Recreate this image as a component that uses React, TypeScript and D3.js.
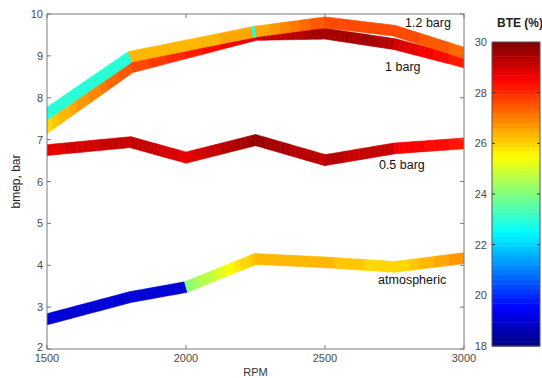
import React from "react";
import * as d3 from "d3";

const W = 542, H = 378;
const M = { left: 47, right: 464, top: 14, bottom: 349 };

const xTicks = [1500, 2000, 2500, 3000];
const yTicks = [2, 3, 4, 5, 6, 7, 8, 9, 10];
const cTicks = [18, 20, 22, 24, 26, 28, 30];

// series (drawn in this order)
const atmRpm = [1500, 1800, 2000, 2250, 2500, 2750, 3000];
const atmBmep = [2.71, 3.24, 3.48, 4.15, 4.07, 3.96, 4.17];
const atmBteStart = [19.0, 19.0, 24.0, 26.4, 26.3, 25.9];
const atmBteEnd = [19.0, 19.0, 26.3, 26.4, 25.9, 26.8];

const b05Rpm = [1500, 1800, 2000, 2250, 2500, 2750, 3000];
const b05Bmep = [6.75, 6.94, 6.57, 6.99, 6.51, 6.79, 6.91];
const b05BteStart = [28.8, 29.3, 28.8, 29.7, 29.3, 28.7];
const b05BteEnd = [29.2, 28.8, 29.7, 29.2, 29.1, 28.2];

const b10Rpm = [1500, 1800, 2250, 2500, 2750, 3000];
const b10Bmep = [7.3, 8.72, 9.5, 9.53, 9.28, 8.85];
const b10BteStart = [26.0, 27.6, 29.0, 29.6, 29.0];
const b10BteEnd = [27.6, 28.9, 29.6, 29.4, 28.1];

const b12Rpm = [1500, 1800, 2250, 2500, 2750, 3000];
const b12Bmep = [7.62, 8.98, 9.58, 9.8, 9.6, 9.07];
const b12BteStart = [22.9, 26.3, 26.4, 27.6, 27.7];
const b12BteEnd = [22.9, 26.5, 27.6, 27.7, 27.3];
// a short cyan sliver just before 2250 rpm on the 1.2 barg line
const b12SliverRpm = [2250];
const b12SliverBte = [22.9];

const seriesList = [
  { rpm: atmRpm, bmep: atmBmep, s: atmBteStart, e: atmBteEnd, sliverRpm: [] as number[], sliverBte: [] as number[] },
  { rpm: b05Rpm, bmep: b05Bmep, s: b05BteStart, e: b05BteEnd, sliverRpm: [], sliverBte: [] },
  { rpm: b10Rpm, bmep: b10Bmep, s: b10BteStart, e: b10BteEnd, sliverRpm: [], sliverBte: [] },
  { rpm: b12Rpm, bmep: b12Bmep, s: b12BteStart, e: b12BteEnd, sliverRpm: b12SliverRpm, sliverBte: b12SliverBte },
];

const labels = [
  { text: "1.2 barg", rpm: 2788, bmep: 9.68 },
  { text: "1 barg", rpm: 2716, bmep: 8.63 },
  { text: "0.5 barg", rpm: 2694, bmep: 6.29 },
  { text: "atmospheric", rpm: 2691, bmep: 3.56 },
];

function jet(v: number): string {
  const t0 = Math.max(0, Math.min(1, (v - 18) / 12));
  const t = (Math.min(63, Math.floor(t0 * 64)) + 0.5) / 64;
  const c = (x: number) => Math.max(0, Math.min(1, x));
  const r = c(1.5 - Math.abs(4 * t - 3));
  const g = c(1.5 - Math.abs(4 * t - 2));
  const b = c(1.5 - Math.abs(4 * t - 1));
  return d3.rgb(r * 255, g * 255, b * 255).formatHex();
}

export default function App() {
  const x = d3.scaleLinear().domain([1500, 3000]).range([M.left, M.right]);
  const y = d3.scaleLinear().domain([2, 10]).range([M.bottom, M.top]);
  const cb = { x0: 492, x1: 540, y0: 42, y1: 346 };
  const cy = d3.scaleLinear().domain([18, 30]).range([cb.y1, cb.y0]);
  const hw = 5.4;
  const N = 14;
  const sliverPx = 3.2;

  const ribbons: JSX.Element[] = [];
  seriesList.forEach((sr, si) => {
    const P = sr.rpm.map((r, i) => [x(r), y(sr.bmep[i])]);
    const n = P.length;
    const normals: number[][] = [];
    for (let i = 0; i < n - 1; i++) {
      const dx = P[i + 1][0] - P[i][0], dy = P[i + 1][1] - P[i][1];
      const L = Math.hypot(dx, dy);
      normals.push([-dy / L, dx / L]);
    }
    const off: number[][] = P.map((_, i) => {
      if (i === 0 || i === n - 1) {
        const nn = normals[i === 0 ? 0 : n - 2];
        return [0, hw / nn[1]];
      }
      const a = normals[i - 1], b = normals[i];
      let mx = a[0] + b[0], my = a[1] + b[1];
      const ml = Math.hypot(mx, my);
      mx /= ml; my /= ml;
      const k = hw / (mx * a[0] + my * a[1]);
      return [mx * k, my * k];
    });
    const quad = (i: number, f0: number, f1: number) => {
      const pt = (f: number, sgn: number) => {
        const cx = P[i][0] + (P[i + 1][0] - P[i][0]) * f;
        const cyy = P[i][1] + (P[i + 1][1] - P[i][1]) * f;
        const ox = off[i][0] + (off[i + 1][0] - off[i][0]) * f;
        const oy = off[i][1] + (off[i + 1][1] - off[i][1]) * f;
        return [cx + sgn * ox, cyy + sgn * oy];
      };
      return [pt(f0, 1), pt(f1, 1), pt(f1, -1), pt(f0, -1)].map((p) => p.join(",")).join(" ");
    };
    for (let i = 0; i < n - 1; i++) {
      for (let k = 0; k < N; k++) {
        const v = sr.s[i] + (sr.e[i] - sr.s[i]) * ((k + 0.5) / N);
        const col = jet(v);
        ribbons.push(
          <polygon key={`r${si}-${i}-${k}`} points={quad(i, k / N, (k + 1) / N)} fill={col} stroke={col} strokeWidth={0.6} />
        );
      }
    }
    sr.sliverRpm.forEach((r, j) => {
      const i = sr.rpm.indexOf(r) - 1;
      if (i < 0) return;
      const segLen = P[i + 1][0] - P[i][0];
      const f0 = 1 - sliverPx / segLen;
      const col = jet(sr.sliverBte[j]);
      ribbons.push(
        <polygon key={`s${si}-${j}`} points={quad(i, f0, 1)} fill={col} stroke={col} strokeWidth={0.4} />
      );
    });
  });

  const bars = d3.range(64).map((i) => {
    const v0 = 18 + (12 * i) / 64, v1 = 18 + (12 * (i + 1)) / 64;
    return (
      <rect key={`cb${i}`} x={cb.x0} y={cy(v1)} width={cb.x1 - cb.x0} height={cy(v0) - cy(v1) + 0.5} fill={jet((v0 + v1) / 2)} />
    );
  });

  const axisCol = "#7a7a7a";
  const tickText = "#4a4a4a";
  const font = "'Liberation Sans', Arial, sans-serif";

  return (
    <svg width={W} height={H} style={{ position: "absolute", left: 0, top: 0, background: "#fff" }} fontFamily={font}>
      <rect x={0} y={0} width={W} height={H} fill="#fff" />
      <defs>
        <clipPath id="plotclip">
          <rect x={M.left} y={M.top} width={M.right - M.left} height={M.bottom - M.top} />
        </clipPath>
      </defs>
      <g clipPath="url(#plotclip)">{ribbons}</g>
      <rect x={M.left} y={M.top} width={M.right - M.left} height={M.bottom - M.top} fill="none" stroke={axisCol} strokeWidth={1} />
      {xTicks.map((t) => (
        <g key={`xt${t}`}>
          <line x1={x(t)} x2={x(t)} y1={M.bottom} y2={M.bottom - 4} stroke={axisCol} />
          <line x1={x(t)} x2={x(t)} y1={M.top} y2={M.top + 4} stroke={axisCol} />
          <text x={x(t)} y={M.bottom + 13} textAnchor="middle" fontSize={11} fill={tickText}>{t}</text>
        </g>
      ))}
      {yTicks.map((t) => (
        <g key={`yt${t}`}>
          <line x1={M.left} x2={M.left + 4} y1={y(t)} y2={y(t)} stroke={axisCol} />
          <line x1={M.right} x2={M.right - 4} y1={y(t)} y2={y(t)} stroke={axisCol} />
          <text x={M.left - 4} y={y(t) + (t === 2 ? 2 : 4)} textAnchor="end" fontSize={11} fill={tickText}>{t}</text>
        </g>
      ))}
      <text x={(M.left + M.right) / 2} y={376} textAnchor="middle" fontSize={11} fill="#333">RPM</text>
      <text transform={`translate(20,${(M.top + M.bottom) / 2}) rotate(-90)`} textAnchor="middle" fontSize={12} fill="#222">bmep, bar</text>
      {labels.map((l) => (
        <text key={l.text} x={x(l.rpm)} y={y(l.bmep)} fontSize={12.5} fill="#111">{l.text}</text>
      ))}
      {bars}
      <rect x={cb.x0} y={cb.y0} width={cb.x1 - cb.x0} height={cb.y1 - cb.y0} fill="none" stroke="#555" strokeWidth={1} />
      {cTicks.map((t) => (
        <g key={`ct${t}`}>
          {t !== 18 && t !== 30 && (
            <>
              <line x1={cb.x0} x2={cb.x0 + 3} y1={cy(t)} y2={cy(t)} stroke="#333" />
              <line x1={cb.x1} x2={cb.x1 - 3} y1={cy(t)} y2={cy(t)} stroke="#333" />
            </>
          )}
          <text x={487} y={cy(t) + 4} textAnchor="end" fontSize={11} fill={tickText}>{t}</text>
        </g>
      ))}
      <text x={497} y={27} fontSize={12} fontWeight="bold" fill="#222">BTE (%)</text>
    </svg>
  );
}
